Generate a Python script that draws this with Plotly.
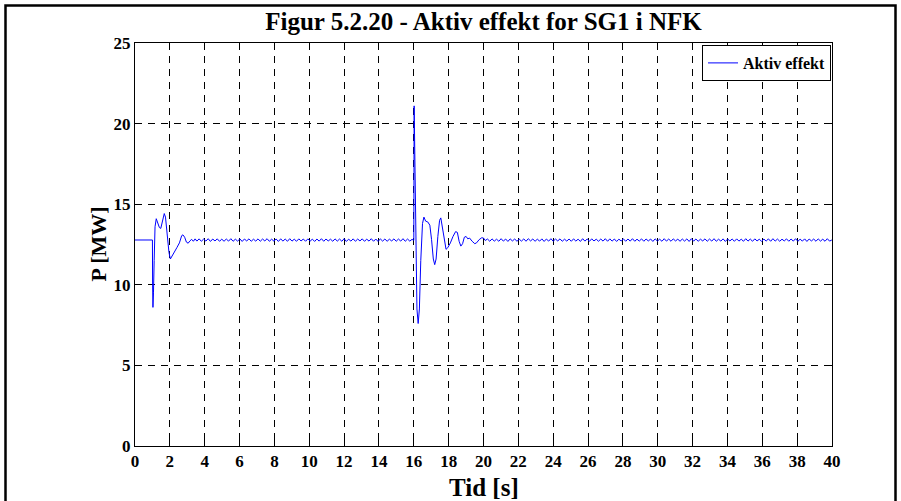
import numpy as np
import plotly.graph_objects as go

# ---- data: active power of SG1 (MW) versus time (s) ----
# steady state before the first disturbance
t_pre = [0.0, 1.0]
p_pre = [12.78, 12.78]

# first disturbance at t = 1 s
t_ev1 = [1.0, 1.01, 1.03, 1.06, 1.10, 1.15, 1.22, 1.30, 1.40, 1.48, 1.58, 1.68,
         1.75, 1.85, 1.95, 2.03, 2.12, 2.25, 2.40, 2.55, 2.68, 2.75, 2.85, 2.95,
         3.05, 3.15, 3.25, 3.35, 3.45]
p_ev1 = [12.78, 10.0, 8.6, 9.5, 11.5, 13.6, 14.1, 13.8, 13.55, 13.5, 14.0, 14.42,
         14.2, 13.0, 12.0, 11.6, 11.75, 12.05, 12.3, 12.6, 13.05, 13.1, 12.95, 12.65,
         12.58, 12.72, 12.82, 12.7, 12.85]

# small ripple between the disturbances (sample spacing 0.13 s from 3.55 s)
ripple_a_start = 3.55
ripple_step = 0.13
ripple_a = [
    12.71, 12.85, 12.70, 12.84, 12.71, 12.86, 12.69, 12.84, 12.72, 12.85, 12.70, 12.83,
    12.70, 12.84, 12.71, 12.86, 12.70, 12.83, 12.71, 12.85, 12.69, 12.84, 12.72, 12.85,
    12.70, 12.83, 12.71, 12.85, 12.70, 12.84, 12.72, 12.86, 12.70, 12.83, 12.71, 12.84,
    12.69, 12.85, 12.71, 12.84, 12.70, 12.86, 12.71, 12.83, 12.70, 12.85, 12.72, 12.84,
    12.70, 12.85, 12.71, 12.83, 12.69, 12.84, 12.71, 12.86, 12.70, 12.84, 12.72, 12.83,
    12.70, 12.85, 12.71, 12.84, 12.70, 12.86, 12.69, 12.83, 12.71, 12.85, 12.70, 12.84,
    12.72, 12.85, 12.70, 12.83, 12.71, 12.86, 12.70, 12.84, 12.69, 12.85, 12.71, 12.84,
    12.70, 12.83, 12.72, 12.85, 12.70, 12.84, 12.71, 12.86, 12.70, 12.84, 12.71, 12.82,
]

# second disturbance at t = 16 s
t_ev2 = [15.98, 16.0, 16.02, 16.06, 16.12, 16.18, 16.25, 16.32, 16.40, 16.50, 16.58,
         16.68, 16.80, 16.92, 17.02, 17.12, 17.20, 17.28, 17.38, 17.48, 17.55, 17.65,
         17.75, 17.85, 17.95, 18.10, 18.25, 18.40, 18.50, 18.60, 18.70, 18.80, 18.90,
         19.00, 19.10, 19.20, 19.35, 19.50, 19.60, 19.75, 19.90, 20.00, 20.10]
p_ev2 = [12.76, 12.76, 21.1, 18.0, 12.0, 8.5, 7.6, 8.5, 11.5, 13.8, 14.2,
         13.95, 13.9, 13.7, 12.8, 11.6, 11.25, 11.6, 13.0, 14.0, 14.15, 13.5,
         12.6, 12.2, 12.3, 12.6, 13.0, 13.3, 13.25, 12.7, 12.4, 12.55, 12.95,
         13.0, 12.85, 12.9, 12.7, 12.55, 12.6, 12.8, 12.92, 12.9, 12.75]

# small ripple after the second disturbance (sample spacing 0.13 s from 20.23 s)
ripple_b_start = 20.23
ripple_b = [
    12.84, 12.70, 12.85, 12.71, 12.83, 12.70, 12.86, 12.71, 12.84, 12.69, 12.85, 12.72,
    12.84, 12.70, 12.83, 12.71, 12.85, 12.70, 12.86, 12.72, 12.84, 12.70, 12.83, 12.71,
    12.85, 12.69, 12.84, 12.71, 12.86, 12.70, 12.84, 12.72, 12.85, 12.70, 12.83, 12.71,
    12.84, 12.70, 12.85, 12.71, 12.83, 12.69, 12.86, 12.71, 12.84, 12.70, 12.85, 12.72,
    12.83, 12.70, 12.84, 12.71, 12.86, 12.70, 12.85, 12.71, 12.84, 12.69, 12.83, 12.72,
    12.85, 12.70, 12.84, 12.71, 12.86, 12.70, 12.83, 12.71, 12.85, 12.70, 12.84, 12.72,
    12.84, 12.69, 12.85, 12.71, 12.83, 12.70, 12.86, 12.71, 12.84, 12.70, 12.85, 12.72,
    12.83, 12.70, 12.84, 12.71, 12.85, 12.69, 12.86, 12.71, 12.84, 12.70, 12.83, 12.72,
    12.85, 12.70, 12.84, 12.71, 12.86, 12.70, 12.83, 12.71, 12.85, 12.69, 12.84, 12.72,
    12.84, 12.70, 12.85, 12.71, 12.83, 12.70, 12.86, 12.71, 12.84, 12.70, 12.85, 12.72,
    12.83, 12.69, 12.84, 12.71, 12.85, 12.70, 12.86, 12.71, 12.84, 12.70, 12.83, 12.72,
    12.85, 12.70, 12.84, 12.71, 12.86, 12.70, 12.83, 12.71, 12.85, 12.69, 12.84, 12.72,
    12.84, 12.70, 12.85, 12.71, 12.83, 12.70, 12.86, 12.71, 12.78,
]

x_ticks = list(range(0, 41, 2))
y_ticks = [0, 5, 10, 15, 20, 25]

title_text = "Figur 5.2.20 - Aktiv effekt for SG1 i NFK"
x_label = "Tid [s]"
y_label = "P [MW]"
series_name = "Aktiv effekt"

# ---- assemble the full time series ----
t_a = [ripple_a_start + i * ripple_step for i in range(len(ripple_a))]
t_b = [ripple_b_start + i * ripple_step for i in range(len(ripple_b))]
t_all = t_pre + t_ev1 + t_a + t_ev2 + t_b
p_all = p_pre + p_ev1 + ripple_a + p_ev2 + ripple_b

FONT = "Liberation Serif, Times New Roman, serif"

fig = go.Figure()
fig.add_trace(go.Scatter(
    x=t_all, y=p_all, mode="lines", name=series_name,
    line=dict(color="#0000ff", width=1),
))

# plot area in pixels (used for the outer frame and axis titles)
L, R, T, B = 135, 832, 43, 446
W, H = 901, 501
pw, ph = R - L, B - T

def px_x(px):
    return (px - L) / pw

def px_y(py):
    return (B - py) / ph

axis_common = dict(
    showline=True, linecolor="black", linewidth=1, mirror="ticks",
    ticks="inside", ticklen=6, tickcolor="black", tickwidth=1,
    showgrid=True, gridcolor="black", gridwidth=1, griddash="7px,6px",
    zeroline=False,
    tickfont=dict(family=FONT, size=17, color="black", weight="bold"),
)

fig.update_layout(
    width=W, height=H,
    margin=dict(l=L, r=W - R, t=T, b=H - B),
    paper_bgcolor="white", plot_bgcolor="white",
    showlegend=True,
    title=dict(text="<b>" + title_text + "</b>", x=0.5, xref="paper",
               y=1 - 21 / H, yref="container", yanchor="middle",
               font=dict(family=FONT, size=25, color="black")),
    xaxis=dict(range=[0, 40], tickvals=x_ticks, ticktext=[str(v) for v in x_ticks],
               **axis_common),
    yaxis=dict(range=[0, 25], tickvals=y_ticks, ticktext=[str(v) for v in y_ticks],
               **axis_common),
    legend=dict(x=1 - 1 / pw, xanchor="right", y=1 - 2 / ph, yanchor="top",
                bgcolor="white", bordercolor="black", borderwidth=1,
                font=dict(family=FONT, size=16, color="black", weight="bold"),
                itemwidth=30, tracegroupgap=0),
    annotations=[
        dict(text="<b>" + x_label + "</b>", xref="paper", yref="paper",
             x=0.5, y=px_y(487), xanchor="center", yanchor="middle",
             showarrow=False, font=dict(family=FONT, size=25, color="black")),
        dict(text="<b>" + y_label + "</b>", xref="paper", yref="paper",
             x=px_x(98), y=0.5, xanchor="center", yanchor="middle", textangle=-90,
             showarrow=False, font=dict(family=FONT, size=22, color="black")),
    ],
    shapes=[
        dict(type="rect", xref="paper", yref="paper",
             x0=px_x(5.5), x1=px_x(895.5), y0=px_y(5.5), y1=px_y(520),
             line=dict(color="black", width=2.5), fillcolor="rgba(0,0,0,0)",
             layer="above"),
    ],
)

fig.write_html("out.html")
